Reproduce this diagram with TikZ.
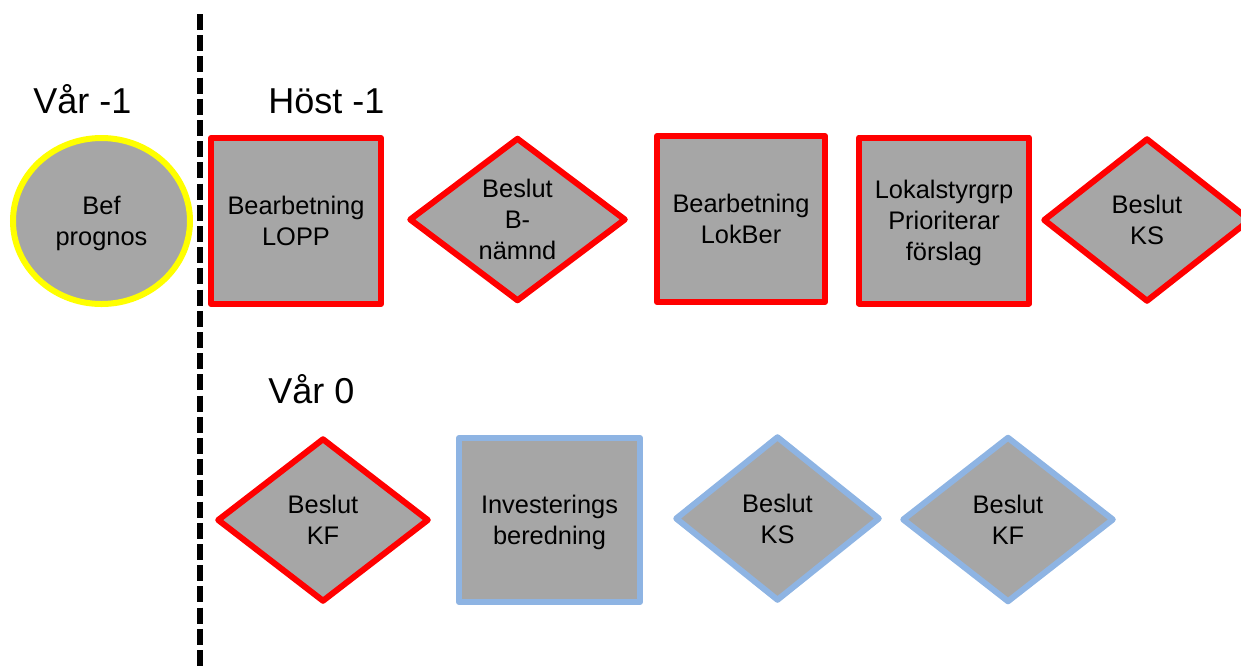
\documentclass[tikz,border=0pt]{standalone}
\usepackage{fontspec}
\setmainfont{Liberation Sans}
\usetikzlibrary{shapes.geometric}

\definecolor{boxgray}{HTML}{A6A6A6}
\definecolor{lineblue}{HTML}{8EB4E3}
\definecolor{pureyellow}{HTML}{FFFF00}

\tikzset{
  stepbox/.style={rectangle, draw, fill=boxgray, line width=3pt, line join=round,
    minimum width=85pt, minimum height=83pt, inner sep=0pt, align=center, text depth=0pt,
    font=\fontsize{12.7}{15.4}\selectfont},
  beslut/.style={diamond, draw, fill=boxgray, line width=3pt, line join=round,
    minimum width=106pt, minimum height=82pt, aspect=1.3, inner sep=0pt, align=center,
    text depth=0pt, font=\fontsize{12.7}{15.4}\selectfont},
  prognos/.style={ellipse, draw=pureyellow, fill=boxgray, line width=3pt,
    minimum width=88.5pt, minimum height=83pt, inner sep=0pt, align=center, text depth=0pt,
    font=\fontsize{12.7}{15.4}\selectfont},
  period/.style={anchor=base west, inner sep=0pt, font=\fontsize{18}{21}\selectfont},
  divider/.style={line width=2.8pt, dash pattern=on 8pt off 2.6pt},
}

\begin{document}
\begin{tikzpicture}[x=0.5pt, y=-0.5pt]
 \useasboundingbox (0,0) rectangle (1241,666);

 %Coordinates
 \coordinate (divtop) at (200,14);
 \coordinate (divbot) at (200,672);

 %Divider
 \draw[divider] (divtop) -- (divbot);

 %Periods
 \node (var-1) [period] at (33,113) {Vår -1};
 \node (host-1) [period] at (268,113) {Höst -1};
 \node (var0) [period] at (268,403) {Vår 0};

 %Vår -1
 \node (befprognos) [prognos] at (101.5,221) {Bef\\prognos};

 %Höst -1
 \node (lopp) [stepbox, draw=red] at (296,221) {Bearbetning\\LOPP};
 \node (bnamnd) [beslut, draw=red, minimum width=108.5pt] at (517.5,219.5) {Beslut\\B-\\nämnd};
 \node (lokber) [stepbox, draw=red, minimum width=84pt] at (741,219) {Bearbetning\\LokBer};
 \node (prio) [stepbox, draw=red] at (944,220.5) {Lokalstyrgrp\\Prioriterar\\förslag};
 \node (ks-1) [beslut, draw=red, minimum width=104pt] at (1147,220) {Beslut\\KS};

 %Vår 0
 \node (kf-red) [beslut, draw=red] at (323,520) {Beslut\\KF};
 \node (invest) [stepbox, draw=lineblue, minimum width=90.5pt, minimum height=82pt] at (549.5,520) {Investerings\\beredning};
 \node (ks0) [beslut, draw=lineblue, minimum width=102.5pt, minimum height=82.5pt] at (777.5,518.5) {Beslut\\KS};
 \node (kf0) [beslut, draw=lineblue, minimum height=83pt] at (1008,519.5) {Beslut\\KF};

\end{tikzpicture}
\end{document}
